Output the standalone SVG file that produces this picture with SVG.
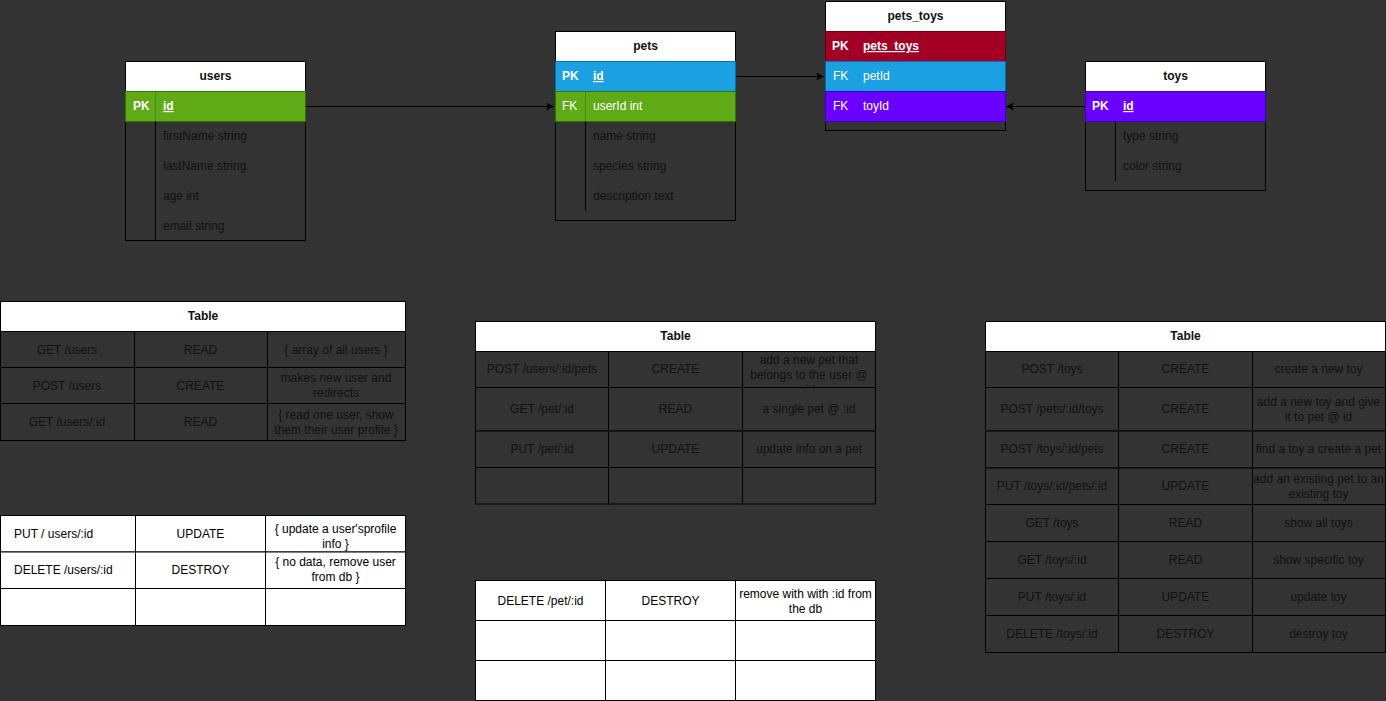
<svg xmlns="http://www.w3.org/2000/svg" width="1386" height="701" viewBox="0 0 1386 701">
<defs>
<style>
.t{font-family:"Liberation Sans",Arial,Helvetica,sans-serif;font-size:12px;fill:#111}
.c{text-anchor:middle}
.b{font-weight:bold}
.w{fill:#fff}
.u{text-decoration:underline}
.k{fill:#000}
.cell{fill:#333;stroke:#000;stroke-width:1}
.wcell{fill:#fff;stroke:#000;stroke-width:1}
.hdr{fill:#fff;stroke:#000;stroke-width:1}
.box{fill:#333;stroke:#000;stroke-width:1}
.div{stroke:#000;stroke-width:1}
.edge{fill:none;stroke:#000;stroke-width:1}
</style>
<marker id="arr" markerWidth="10" markerHeight="10" refX="8" refY="4" orient="auto" markerUnits="userSpaceOnUse">
<path d="M0,0 L8,4 L0,8 L2,4 Z" fill="#000"/>
</marker>
<clipPath id="clipP1"><rect x="742" y="351" width="133" height="36"/></clipPath>
</defs>
<rect x="0" y="0" width="1386" height="701" fill="#333"/>

<g id="connectors">
<path class="edge" d="M305.5,106.5 L554,106.5" marker-end="url(#arr)"/>
<path class="edge" d="M735.5,76.5 L824,76.5" marker-end="url(#arr)"/>
<path class="edge" d="M1085.5,106.5 L1006,106.5" marker-end="url(#arr)"/>
</g>

<g id="users">
<rect class="box" x="125.5" y="61.5" width="180" height="179"/>
<rect class="hdr" x="125.5" y="61.5" width="180" height="30"/>
<text class="t c b" x="215.5" y="80">users</text>
<rect x="125.5" y="91.5" width="180" height="30" fill="#60a917" stroke="#2d7600"/>
<line x1="155.5" y1="91.5" x2="155.5" y2="121.5" stroke="#4a8a10"/>
<text class="t b w" x="133" y="110">PK</text>
<text class="t b w u" x="163" y="110">id</text>
<line class="div" x1="155.5" y1="121.5" x2="155.5" y2="240.5"/>
<text class="t" x="163" y="140">firstName string</text>
<text class="t" x="163" y="170">lastName string</text>
<text class="t" x="163" y="200">age int</text>
<text class="t" x="163" y="230">email string</text>
</g>

<g id="pets">
<rect class="box" x="555.5" y="31.5" width="180" height="189"/>
<rect class="hdr" x="555.5" y="31.5" width="180" height="30"/>
<text class="t c b" x="645.5" y="50">pets</text>
<rect x="555.5" y="61.5" width="180" height="30" fill="#1ba1e2" stroke="#006eaf"/>
<text class="t b w" x="562" y="80">PK</text>
<text class="t b w u" x="593" y="80">id</text>
<rect x="555.5" y="91.5" width="180" height="30" fill="#60a917" stroke="#2d7600"/>
<line x1="585.5" y1="91.5" x2="585.5" y2="121.5" stroke="#4a8a10"/>
<text class="t w" x="562" y="110">FK</text>
<text class="t w" x="593" y="110">userId int</text>
<line class="div" x1="585.5" y1="121.5" x2="585.5" y2="211"/>
<text class="t" x="593" y="140">name string</text>
<text class="t" x="593" y="170">species string</text>
<text class="t" x="593" y="200">description text</text>
</g>

<g id="pets_toys">
<rect class="box" x="825.5" y="1.5" width="180" height="129"/>
<rect class="hdr" x="825.5" y="1.5" width="180" height="30"/>
<text class="t c b" x="915.5" y="20">pets_toys</text>
<rect x="825.5" y="31.5" width="180" height="30" fill="#a20025" stroke="#6f0000"/>
<text class="t b w" x="832" y="50">PK</text>
<text class="t b w u" x="863" y="50">pets_toys</text>
<rect x="825.5" y="61.5" width="180" height="30" fill="#1ba1e2" stroke="#006eaf"/>
<text class="t w" x="833" y="80">FK</text>
<text class="t w" x="863" y="80">petId</text>
<rect x="825.5" y="91.5" width="180" height="30" fill="#6a00ff" stroke="#3700cc"/>
<text class="t w" x="833" y="110">FK</text>
<text class="t w" x="863" y="110">toyId</text>
</g>

<g id="toys">
<rect class="box" x="1085.5" y="61.5" width="180" height="129"/>
<rect class="hdr" x="1085.5" y="61.5" width="180" height="30"/>
<text class="t c b" x="1175.5" y="80">toys</text>
<rect x="1085.5" y="91.5" width="180" height="30" fill="#6a00ff" stroke="#3700cc"/>
<text class="t b w" x="1092" y="110">PK</text>
<text class="t b w u" x="1123" y="110">id</text>
<line class="div" x1="1115.5" y1="121.5" x2="1115.5" y2="181"/>
<text class="t" x="1123" y="140">type string</text>
<text class="t" x="1123" y="170">color string</text>
</g>

<g id="users-routes">
<rect class="hdr" x="0.5" y="301.5" width="405" height="30"/>
<text class="t c b" x="203" y="320">Table</text>
<rect class="cell" x="0.5" y="331.5" width="134" height="36"/>
<rect class="cell" x="134.5" y="331.5" width="133" height="36"/>
<rect class="cell" x="267.5" y="331.5" width="138" height="36"/>
<rect class="cell" x="0.5" y="367.5" width="134" height="36"/>
<rect class="cell" x="134.5" y="367.5" width="133" height="36"/>
<rect class="cell" x="267.5" y="367.5" width="138" height="36"/>
<rect class="cell" x="0.5" y="403.5" width="134" height="37"/>
<rect class="cell" x="134.5" y="403.5" width="133" height="37"/>
<rect class="cell" x="267.5" y="403.5" width="138" height="37"/>
<text class="t c" x="67" y="353.5">GET /users</text>
<text class="t c" x="200.5" y="353.5">READ</text>
<text class="t c" x="336" y="353.5">{ array of all users }</text>
<text class="t c" x="67" y="389.5">POST /users</text>
<text class="t c" x="200.5" y="389.5">CREATE</text>
<text class="t c" x="336" y="382">makes new user and</text>
<text class="t c" x="336" y="397">redirects</text>
<text class="t c" x="67" y="426">GET /users/:id</text>
<text class="t c" x="200.5" y="426">READ</text>
<text class="t c" x="336" y="418.5">{ read one user, show</text>
<text class="t c" x="336" y="434">them their user profile }</text>
</g>

<g id="users-routes-2">
<rect class="wcell" x="0.5" y="515.5" width="135" height="36.5"/>
<rect class="wcell" x="135.5" y="515.5" width="130" height="36.5"/>
<rect class="wcell" x="265.5" y="515.5" width="140" height="36.5"/>
<rect class="wcell" x="0.5" y="552" width="135" height="36.5"/>
<rect class="wcell" x="135.5" y="552" width="130" height="36.5"/>
<rect class="wcell" x="265.5" y="552" width="140" height="36.5"/>
<rect class="wcell" x="0.5" y="588.5" width="135" height="37"/>
<rect class="wcell" x="135.5" y="588.5" width="130" height="37"/>
<rect class="wcell" x="265.5" y="588.5" width="140" height="37"/>
<text class="t k" x="14" y="538">PUT / users/:id</text>
<text class="t c k" x="200.5" y="538">UPDATE</text>
<text class="t c k" x="335.5" y="532.5">{ update a user'sprofile</text>
<text class="t c k" x="335.5" y="547.5">info }</text>
<text class="t k" x="14" y="574">DELETE /users/:id</text>
<text class="t c k" x="200.5" y="574">DESTROY</text>
<text class="t c k" x="335.5" y="566">{ no data, remove user</text>
<text class="t c k" x="335.5" y="581">from db }</text>
</g>

<g id="pets-routes">
<rect class="hdr" x="475.5" y="321.5" width="400" height="30"/>
<text class="t c b" x="675.5" y="340">Table</text>
<rect class="cell" x="475.5" y="351.5" width="133" height="36"/>
<rect class="cell" x="608.5" y="351.5" width="134" height="36"/>
<rect class="cell" x="742.5" y="351.5" width="133" height="36"/>
<rect class="cell" x="475.5" y="387.5" width="133" height="43.5"/>
<rect class="cell" x="608.5" y="387.5" width="134" height="43.5"/>
<rect class="cell" x="742.5" y="387.5" width="133" height="43.5"/>
<rect class="cell" x="475.5" y="431" width="133" height="36.5"/>
<rect class="cell" x="608.5" y="431" width="134" height="36.5"/>
<rect class="cell" x="742.5" y="431" width="133" height="36.5"/>
<rect class="cell" x="475.5" y="467.5" width="133" height="36.5"/>
<rect class="cell" x="608.5" y="467.5" width="134" height="36.5"/>
<rect class="cell" x="742.5" y="467.5" width="133" height="36.5"/>
<text class="t c" x="542" y="373">POST /users/:id/pets</text>
<text class="t c" x="675.5" y="373">CREATE</text>
<g clip-path="url(#clipP1)">
<text class="t c" x="809" y="363.5">add a new pet that</text>
<text class="t c" x="809" y="378.5">belongs to the user @</text>
<text class="t c" x="809" y="393.5">:id</text>
</g>
<text class="t c" x="542" y="413">GET /pet/:id</text>
<text class="t c" x="675.5" y="413">READ</text>
<text class="t c" x="809" y="413">a single pet @ :id</text>
<text class="t c" x="542" y="453">PUT /pet/:id</text>
<text class="t c" x="675.5" y="453">UPDATE</text>
<text class="t c" x="809" y="453">update info on a pet</text>
</g>

<g id="pets-routes-2">
<rect class="wcell" x="475.5" y="580.5" width="130" height="40"/>
<rect class="wcell" x="605.5" y="580.5" width="130" height="40"/>
<rect class="wcell" x="735.5" y="580.5" width="140" height="40"/>
<rect class="wcell" x="475.5" y="620.5" width="130" height="40"/>
<rect class="wcell" x="605.5" y="620.5" width="130" height="40"/>
<rect class="wcell" x="735.5" y="620.5" width="140" height="40"/>
<rect class="wcell" x="475.5" y="660.5" width="130" height="40"/>
<rect class="wcell" x="605.5" y="660.5" width="130" height="40"/>
<rect class="wcell" x="735.5" y="660.5" width="140" height="40"/>
<text class="t c k" x="540.5" y="605">DELETE /pet/:id</text>
<text class="t c k" x="670.5" y="605">DESTROY</text>
<text class="t c k" x="805.5" y="597.5">remove with with :id from</text>
<text class="t c k" x="805.5" y="612.5">the db</text>
</g>

<g id="toys-routes">
<rect class="hdr" x="985.5" y="321.5" width="400" height="30"/>
<text class="t c b" x="1185.5" y="340">Table</text>
<g>
<rect class="cell" x="985.5" y="351.5" width="133" height="36"/>
<rect class="cell" x="1118.5" y="351.5" width="134" height="36"/>
<rect class="cell" x="1252.5" y="351.5" width="133" height="36"/>
<rect class="cell" x="985.5" y="387.5" width="133" height="43.5"/>
<rect class="cell" x="1118.5" y="387.5" width="134" height="43.5"/>
<rect class="cell" x="1252.5" y="387.5" width="133" height="43.5"/>
<rect class="cell" x="985.5" y="431" width="133" height="37"/>
<rect class="cell" x="1118.5" y="431" width="134" height="37"/>
<rect class="cell" x="1252.5" y="431" width="133" height="37"/>
<rect class="cell" x="985.5" y="468" width="133" height="36.5"/>
<rect class="cell" x="1118.5" y="468" width="134" height="36.5"/>
<rect class="cell" x="1252.5" y="468" width="133" height="36.5"/>
<rect class="cell" x="985.5" y="504.5" width="133" height="37"/>
<rect class="cell" x="1118.5" y="504.5" width="134" height="37"/>
<rect class="cell" x="1252.5" y="504.5" width="133" height="37"/>
<rect class="cell" x="985.5" y="541.5" width="133" height="37"/>
<rect class="cell" x="1118.5" y="541.5" width="134" height="37"/>
<rect class="cell" x="1252.5" y="541.5" width="133" height="37"/>
<rect class="cell" x="985.5" y="578.5" width="133" height="37"/>
<rect class="cell" x="1118.5" y="578.5" width="134" height="37"/>
<rect class="cell" x="1252.5" y="578.5" width="133" height="37"/>
<rect class="cell" x="985.5" y="615.5" width="133" height="37"/>
<rect class="cell" x="1118.5" y="615.5" width="134" height="37"/>
<rect class="cell" x="1252.5" y="615.5" width="133" height="37"/>
</g>
<text class="t c" x="1052" y="373">POST /toys</text>
<text class="t c" x="1185.5" y="373">CREATE</text>
<text class="t c" x="1318.5" y="373">create a new toy</text>
<text class="t c" x="1052" y="413">POST /pets/:id/toys</text>
<text class="t c" x="1185.5" y="413">CREATE</text>
<text class="t c" x="1318.5" y="406">add a new toy and give</text>
<text class="t c" x="1318.5" y="420.5">it to pet @ id</text>
<text class="t c" x="1052" y="453">POST /toys/:id/pets</text>
<text class="t c" x="1185.5" y="453">CREATE</text>
<text class="t c" x="1318.5" y="453">find a toy a create a pet</text>
<text class="t c" x="1052" y="490">PUT /toys/:id/pets/:id</text>
<text class="t c" x="1185.5" y="490">UPDATE</text>
<text class="t c" x="1318.5" y="482.5">add an existing pet to an</text>
<text class="t c" x="1318.5" y="497.5">existing toy</text>
<text class="t c" x="1052" y="527">GET /toys</text>
<text class="t c" x="1185.5" y="527">READ</text>
<text class="t c" x="1318.5" y="527">show all toys</text>
<text class="t c" x="1052" y="564">GET /toys/:id</text>
<text class="t c" x="1185.5" y="564">READ</text>
<text class="t c" x="1318.5" y="564">show specific toy</text>
<text class="t c" x="1052" y="601">PUT /toys/:id</text>
<text class="t c" x="1185.5" y="601">UPDATE</text>
<text class="t c" x="1318.5" y="601">update toy</text>
<text class="t c" x="1052" y="638">DELETE /toys/:id</text>
<text class="t c" x="1185.5" y="638">DESTROY</text>
<text class="t c" x="1318.5" y="638">destroy toy</text>
</g>
</svg>
